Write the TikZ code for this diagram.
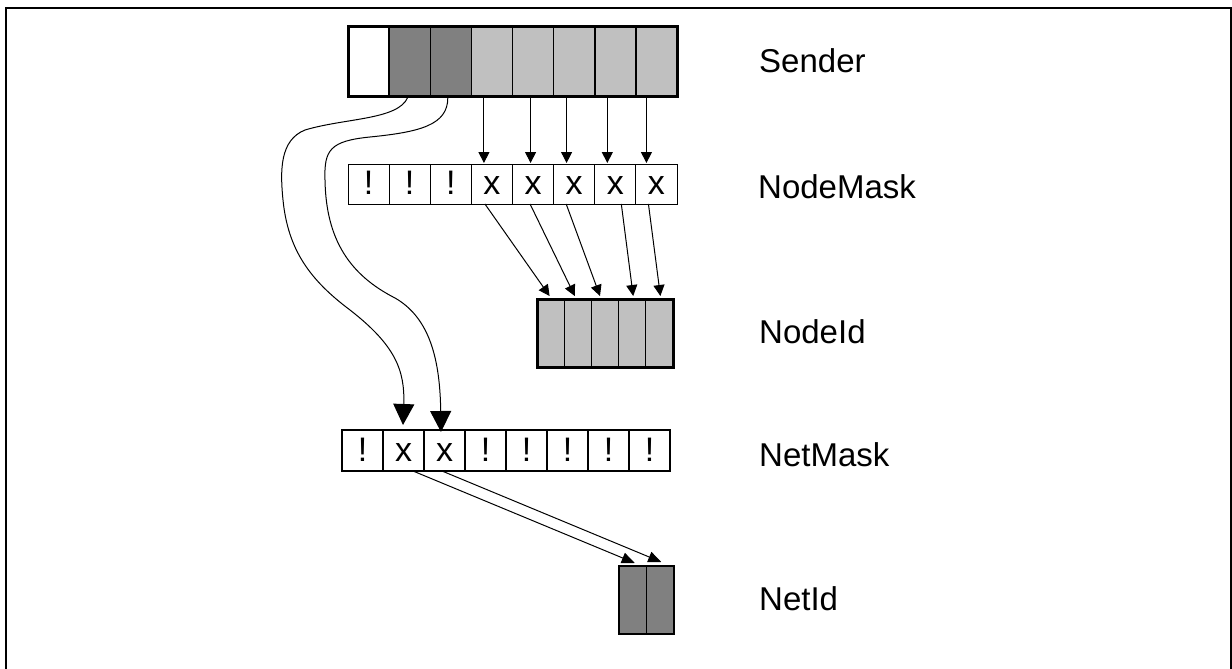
\documentclass[tikz,border=0pt]{standalone}
\usepackage{fontspec}
\setmainfont{Liberation Sans}
\usetikzlibrary{arrows.meta,calc}
\definecolor{dgray}{HTML}{808080}
\definecolor{lgray}{HTML}{C0C0C0}
\begin{document}
\begin{tikzpicture}[x=1pt,y=-1pt,
  cellbase/.style={draw=black,inner sep=0pt,outer sep=0pt,anchor=center},
  sendcell/.style={cellbase,line width=1.5pt,minimum width=41.125pt,minimum height=69pt},
  maskcell/.style={cellbase,line width=1pt,fill=white,minimum width=41.125pt,minimum height=40pt,
     font=\fontsize{34}{40}\selectfont,text height=21pt,text depth=0pt},
  netmaskcell/.style={maskcell,line width=1.3pt,minimum width=41pt,minimum height=41pt},
  idcell/.style={cellbase,line width=1.3pt,minimum width=27.2pt,minimum height=68pt,fill=lgray},
  netidcell/.style={cellbase,line width=1.2pt,minimum width=27.5pt,minimum height=68pt,fill=dgray},
  lbl/.style={anchor=base west,inner sep=0pt,font=\fontsize{33}{39}\selectfont},
  arr/.style={line width=1pt,-{Triangle[length=11pt,width=11pt]}},
  bigarr/.style={line width=1pt,-{Triangle[length=21pt,width=21pt]}},
  arrb/.style={line width=1pt,-{Triangle[length=13pt,width=11pt]}}
]
\clip (0,0) rectangle (1232,669);
\fill[white] (0,0) rectangle (1232,669);
% frame
\draw[line width=2pt] (6,700) -- (6,8) -- (1231,8) -- (1231,700);

% Sender
\foreach \i/\f in {1/white,2/dgray,3/dgray,4/lgray,5/lgray,6/lgray,7/lgray,8/lgray}
  \node[sendcell,fill=\f] (s\i) at ({348+41.125*(\i-0.5)},61.5) {};
\draw[line width=3pt] (s1.north west) rectangle (s8.south east);

% NodeMask
\foreach \i/\t in {1/!,2/!,3/!,4/x,5/x,6/x,7/x,8/x}
  \node[maskcell] (nm\i) at ({348+41.125*(\i-0.5)},184) {\t};

% NodeId
\foreach \i in {1,...,5}
  \node[idcell] (ni\i) at ({537+27.2*(\i-0.5)},333) {};
\draw[line width=3pt] (ni1.north west) rectangle (ni5.south east);

% NetMask
\foreach \i/\t in {1/!,2/x,3/x,4/!,5/!,6/!,7/!,8/!}
  \node[netmaskcell] (tm\i) at ({342+41*(\i-0.5)},450.5) {\t};

% NetId
\foreach \i in {1,2}
  \node[netidcell] (ti\i) at ({619+27.5*(\i-0.5)},600) {};

% labels
\node[lbl] (lsender) at (759,73) {Sender};
\node[lbl] (lnodemask) at (758,198) {NodeMask};
\node[lbl] (lnodeid) at (759,343) {NodeId};
\node[lbl] (lnetmask) at (759,466) {NetMask};
\node[lbl] (lnetid) at (759,610) {NetId};

% Sender -> NodeMask
\foreach \i/\d in {4/-8,5/-2.5,6/-7.6,7/-8,8/-10}
  \draw[arr] ($(s\i.south)+(\d,1.5)$) -- ($(nm\i.north)+(\d,-1)$);

% NodeMask -> NodeId
\foreach \i/\d/\j/\e in {4/-7/1/-1,5/-3/2/-3,6/-8/3/-5,7/6/4/1,8/-8/5/1}
  \draw[arr] ($(nm\i.south)+(\d,0)$) -- ($(ni\j.north)+(\e,-3)$);

% Sender -> NetMask (curved)
\draw[bigarr] ($(s2.south)+(-2,1.5)$) .. controls (398,120) and (345,118) .. (305,130)
   .. controls (280,140) and (280,170) .. (283,200)
   .. controls (288,250) and (310,280) .. (350,310)
   .. controls (395,345) and (405,370) .. ($(tm2.north)+(-0.5,-5)$);
\draw[bigarr] ($(s3.south)+(-3,1.5)$) .. controls (448,125) and (420,132) .. (370,137)
   .. controls (330,141) and (324,150) .. (325,180)
   .. controls (326,240) and (350,275) .. (395,298)
   .. controls (430,318) and (440,360) .. ($(tm3.north)+(-3.5,2)$);

% NetMask -> NetId
\draw[arrb] ($(tm2.south)+(9.5,0)$) -- ($(ti1.north)+(2,-3)$);
\draw[arrb] ($(tm3.south)+(-2.5,0)$) -- ($(ti2.north)+(1,-4)$);
\end{tikzpicture}
\end{document}
